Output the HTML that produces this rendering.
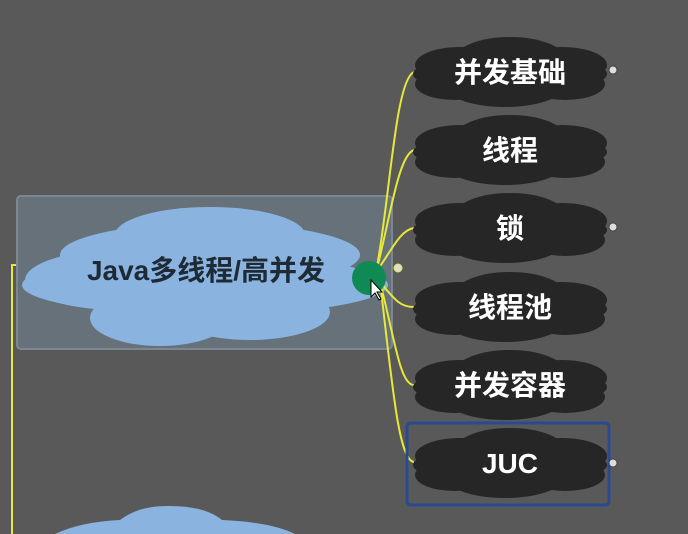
<!DOCTYPE html><html><head><style>html,body{margin:0;background:#595959;overflow:hidden;width:688px;height:534px}svg{display:block;overflow:hidden}</style></head><body>
<svg width="688" height="534" viewBox="0 0 688 534" xmlns="http://www.w3.org/2000/svg" font-family="Liberation Sans, Noto Sans CJK SC, sans-serif">
<rect width="688" height="534" fill="#595959"/>
<path d="M38 265 H12 V534" stroke="#e8e83a" stroke-width="2" fill="none"/>
<rect x="17" y="196" width="375" height="153" rx="4" fill="#66717a" stroke="#7b8893" stroke-width="2"/>
<g fill="#8ab4df">
<ellipse cx="205" cy="285" rx="183" ry="30"/>
<ellipse cx="210" cy="255" rx="150" ry="32"/>
<ellipse cx="210" cy="235" rx="95" ry="28"/>
<ellipse cx="160" cy="318" rx="70" ry="28"/>
<ellipse cx="250" cy="312" rx="80" ry="28"/>
<ellipse cx="120" cy="280" rx="95" ry="30"/>
</g>
<text x="206" y="280" text-anchor="middle" font-size="28" font-weight="bold" fill="#1e2a36">Java多线程/高并发</text>
<path d="M55 534 Q80 522 120 520 Q140 505 170 506 Q205 506 222 520 Q270 522 295 534 Z" fill="#8ab4df"/>
<g stroke="#e8e83a" stroke-width="2" fill="none">
<path d="M376 272 C390 200,395 80,414 72"/>
<path d="M376 272 C390 220,398 155,414 150"/>
<path d="M376 272 C392 250,400 230,414 228"/>
<path d="M380 282 C395 300,400 307,414 307"/>
<path d="M380 282 C395 340,400 385,414 385"/>
<path d="M380 282 C392 380,398 460,414 462"/>
</g>
<circle cx="369" cy="278" r="17" fill="#0f8a55"/>
<path d="M371 280 l0 17 l4 -4 l4 7 l2 -1 l-4 -7 l5 0 z" fill="#fff" stroke="#000" stroke-width="1"/>
<circle cx="398" cy="268" r="4" fill="#ddd" stroke="#e8e83a"/>
<rect x="407" y="423" width="202" height="82" rx="4" fill="none" stroke="#2a4a8f" stroke-width="3"/>
<defs><g id="c" fill="#262626">
<ellipse cx="0" cy="2" rx="97" ry="20"/>
<ellipse cx="0" cy="-13" rx="55" ry="22"/>
<ellipse cx="-5" cy="15" rx="58" ry="20"/>
<ellipse cx="-50" cy="-7" rx="45" ry="18"/>
<ellipse cx="52" cy="-7" rx="45" ry="18"/>
<ellipse cx="-55" cy="12" rx="40" ry="16"/>
<ellipse cx="55" cy="12" rx="40" ry="16"/>
</g></defs>
<g font-size="28" font-weight="bold" fill="#fff" text-anchor="middle">
<use href="#c" x="510" y="72"/><text x="510" y="82">并发基础</text>
<use href="#c" x="510" y="150"/><text x="510" y="160">线程</text>
<use href="#c" x="510" y="228"/><text x="510" y="238">锁</text>
<use href="#c" x="510" y="307"/><text x="510" y="317">线程池</text>
<use href="#c" x="510" y="385"/><text x="510" y="395">并发容器</text>
<use href="#c" x="510" y="463"/><text x="510" y="473">JUC</text>
</g>
<g fill="#ddd" stroke="#444"><circle cx="613" cy="70" r="4"/><circle cx="613" cy="227" r="4"/><circle cx="613" cy="463" r="4"/></g>
</svg></body></html>
